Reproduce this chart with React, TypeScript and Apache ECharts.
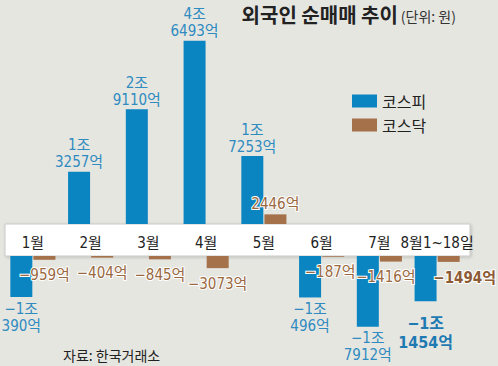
import React, { useEffect, useRef } from "react";
import * as echarts from "echarts";

const categories = ["1월", "2월", "3월", "4월", "5월", "6월", "7월", "8월1~18일"];
// 외국인 순매매 (단위: 억 원)
const kospi = [-10390, 13257, 29110, 46493, 17253, -10496, -17912, -11454];
const kosdaq = [-959, -404, -845, -3073, 2446, -187, -1416, -1494];

const FONT = "'Liberation Sans Narrow', 'DejaVu Sans Condensed', 'Noto Sans CJK KR', sans-serif";
const KFONT = "'Noto Sans CJK KR', sans-serif";
const BLUE = "#0a85c2";
const BROWN = "#a4714a";
const BLUE_TXT = "#2f8bc0";
const BROWN_TXT = "#9a6840";

function fmt(v: number): string {
  const sign = v < 0 ? "−" : "";
  const a = Math.abs(v);
  if (a >= 10000) {
    const jo = Math.floor(a / 10000);
    const eok = a % 10000;
    return `${sign}${jo}조\n${eok}억`;
  }
  return `${sign}${a}억`;
}

export default function App() {
  const ref = useRef<HTMLDivElement>(null);
  useEffect(() => {
    if (!ref.current) return;
    const chart = echarts.init(ref.current, null, { renderer: "svg" });
    const last = categories.length - 1;

    const blueLabel = (pos: string, dist: number) => ({
      show: true,
      position: pos,
      distance: dist,
      formatter: (p: any) => fmt(p.value),
      color: BLUE_TXT,
      fontSize: 15,
      lineHeight: 17,
      fontFamily: FONT,
    });
    const brownLabel = (pos: string, dist: number) => ({
      show: true,
      position: pos,
      distance: dist,
      formatter: (p: any) => fmt(p.value),
      color: BROWN_TXT,
      fontSize: 15,
      lineHeight: 17,
      fontFamily: FONT,
      textBorderColor: "#ffffff",
      textBorderWidth: 2,
    });

    const upperBlue = kospi.map((v) => (v > 0 ? v : "-"));
    const upperBrown = kosdaq.map((v) => (v > 0 ? v : "-"));
    const lowerBlue = kospi.map((v, i) => {
      if (v >= 0) return "-";
      if (i === last)
        return {
          value: v,
          label: { distance: 13, fontSize: 16, lineHeight: 19, fontWeight: "bold", color: "#1f7ab2" },
        };
      return v;
    });
    const lowerBrown = kosdaq.map((v, i) => {
      if (v >= 0) return "-";
      if (i === last)
        return {
          value: v,
          label: { distance: 8, fontSize: 15, fontWeight: "bold", color: "#8c5a34", offset: [16, 0] },
        };
      if (i === 5) return { value: v, label: { offset: [-3, 0] } };
      if (i === 6) return { value: v, label: { offset: [-5, 0] } };
      return v;
    });

    chart.setOption({
      animation: false,
      backgroundColor: "#e6e6e1",
      legend: {
        left: 352,
        top: 93,
        orient: "vertical",
        padding: 0,
        itemWidth: 25,
        itemHeight: 13,
        itemGap: 8,
        icon: "rect",
        data: ["코스피", "코스닥"],
        textStyle: { fontSize: 16, color: "#222", fontFamily: KFONT },
      },
      graphic: [
        {
          type: "rect",
          z: 0,
          shape: { x: 5, y: 224, width: 465, height: 32 },
          style: {
            fill: "#ffffff",
            stroke: "#c9c9c6",
            lineWidth: 1,
            shadowBlur: 3,
            shadowColor: "rgba(0,0,0,0.18)",
            shadowOffsetY: 1,
            shadowOffsetX: 1,
          },
        },
        {
          type: "text",
          right: 42,
          top: 4,
          style: {
            text: "{a|외국인 순매매 추이}{b|(단위: 원)}",
            rich: {
              a: { fontSize: 20, fontWeight: "bold", fill: "#222", fontFamily: KFONT },
              b: { fontSize: 14, fill: "#333", fontFamily: KFONT, padding: [4, 0, 0, 3] },
            },
          },
        },
        {
          type: "text",
          left: 63,
          top: 348,
          style: { text: "자료: 한국거래소", fontSize: 14, fill: "#222", fontFamily: KFONT },
        },
      ],
      grid: [
        { left: 4, right: 32, top: 27, bottom: 142 },
        { left: 4, right: 32, top: 256, bottom: 31 },
      ],
      xAxis: [
        {
          type: "category",
          gridIndex: 0,
          data: categories,
          z: 10,
          axisLine: { show: false },
          axisTick: { show: false },
          axisLabel: { margin: 11, fontSize: 15, color: "#222", fontFamily: FONT, interval: 0 },
        },
        {
          type: "category",
          gridIndex: 1,
          data: categories,
          show: false,
        },
      ],
      yAxis: [
        { type: "value", gridIndex: 0, min: 0, max: 50000, show: false, splitLine: { show: false } },
        { type: "value", gridIndex: 1, min: -20000, max: 0, show: false, splitLine: { show: false } },
      ],
      series: [
        {
          name: "코스피",
          type: "bar",
          xAxisIndex: 0,
          yAxisIndex: 0,
          data: upperBlue,
          barWidth: 22,
          barGap: "5%",
          itemStyle: { color: BLUE },
          label: blueLabel("top", 1),
          z: 3,
        },
        {
          name: "코스닥",
          type: "bar",
          xAxisIndex: 0,
          yAxisIndex: 0,
          data: upperBrown,
          barWidth: 22,
          barGap: "5%",
          itemStyle: { color: BROWN },
          label: brownLabel("top", 2),
          z: 3,
        },
        {
          name: "코스피",
          type: "bar",
          xAxisIndex: 1,
          yAxisIndex: 1,
          data: lowerBlue,
          barWidth: 22,
          barGap: "5%",
          itemStyle: { color: BLUE },
          label: blueLabel("bottom", 3),
          z: 3,
        },
        {
          name: "코스닥",
          type: "bar",
          xAxisIndex: 1,
          yAxisIndex: 1,
          data: lowerBrown,
          barWidth: 22,
          barGap: "5%",
          itemStyle: { color: BROWN },
          label: brownLabel("bottom", 7),
          z: 4,
        },
      ],
    });
    return () => chart.dispose();
  }, []);
  return (
    <div
      ref={ref}
      style={{ position: "fixed", left: 0, top: 0, width: 498, height: 366 }}
    />
  );
}
